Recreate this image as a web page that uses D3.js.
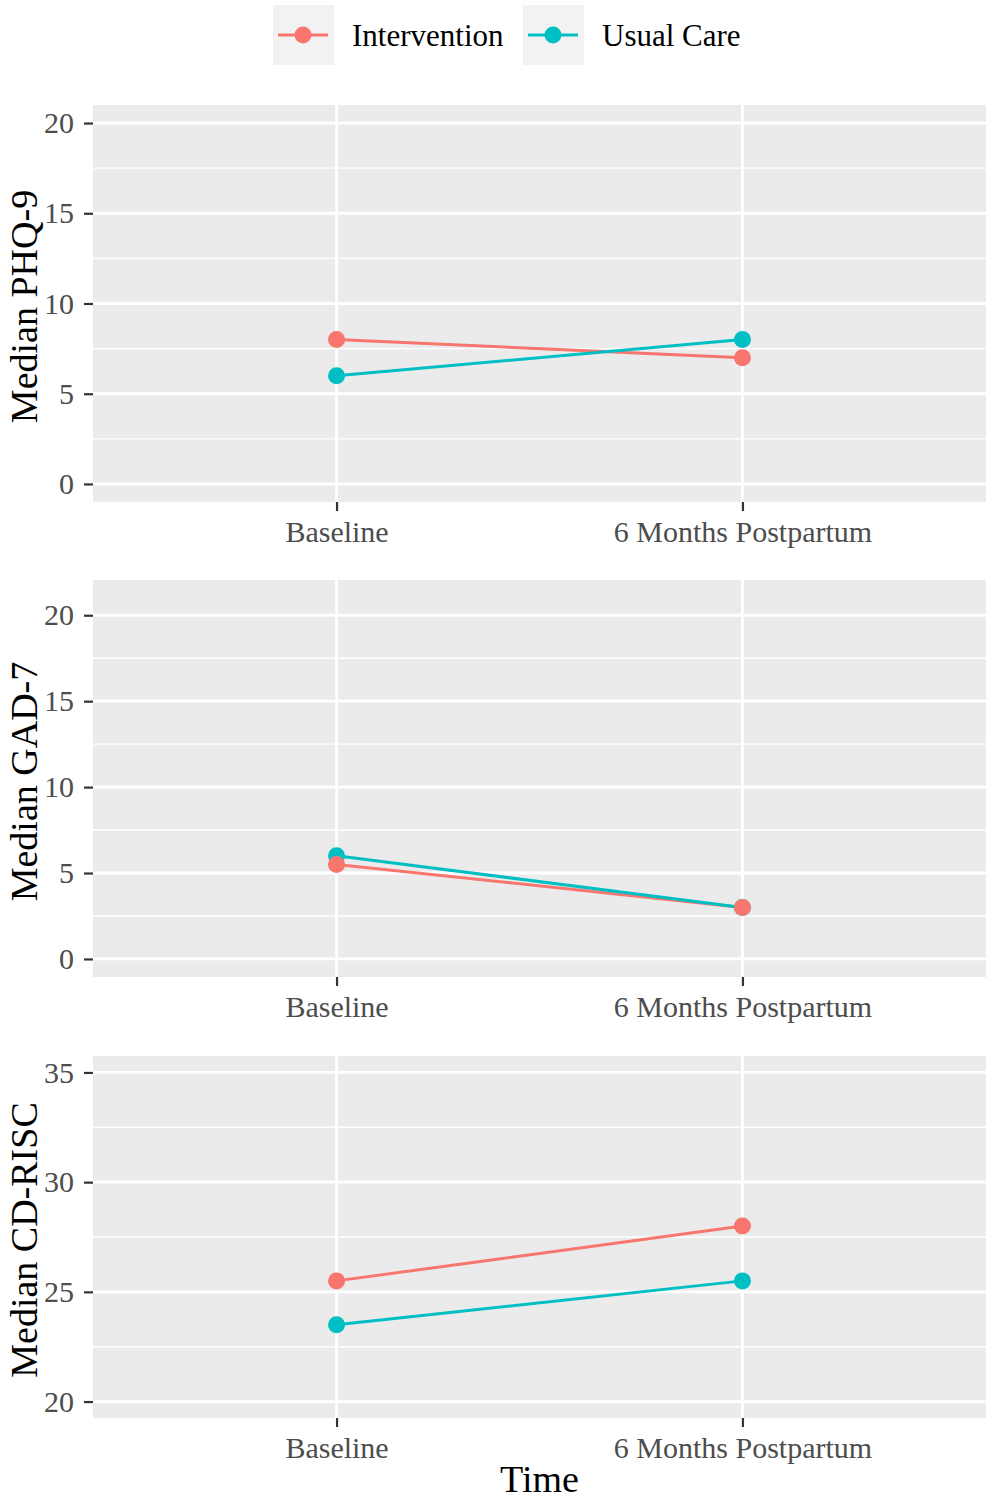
<!DOCTYPE html>
<html>
<head>
<meta charset="utf-8">
<script src="https://cdn.jsdelivr.net/npm/d3@7"></script>
<style>
  body { margin: 0; background: #fff; }
  text { font-family: "Liberation Serif", "Times New Roman", serif; }
</style>
</head>
<body>
<svg id="chart" width="992" height="1499"></svg>
<script>
// data
const timepoints = ["Baseline", "6 Months Postpartum"];
const groups = ["Intervention", "Usual Care"];
const groupColors = ["#F8766D", "#00BFC4"];

const phqIntervention = [8, 7];
const phqUsualCare = [6, 8];
const gadIntervention = [5.5, 3];
const gadUsualCare = [6, 3];
const riscIntervention = [25.5, 28];
const riscUsualCare = [23.5, 25.5];

const phqTicks = [0, 5, 10, 15, 20];
const gadTicks = [0, 5, 10, 15, 20];
const riscTicks = [20, 25, 30, 35];

const panels = [
  { label: "Median PHQ-9", limits: [0, 20], ticks: phqTicks, series: [phqIntervention, phqUsualCare], top: 105, bottom: 502 },
  { label: "Median GAD-7", limits: [0, 21], ticks: gadTicks, series: [gadIntervention, gadUsualCare], top: 580, bottom: 977 },
  { label: "Median CD-RISC", limits: [20, 35], ticks: riscTicks, series: [riscIntervention, riscUsualCare], top: 1056, bottom: 1418 }
];

const left = 93, right = 986;
const svg = d3.select("#chart");

const x = d3.scalePoint().domain(timepoints).range([left, right]).padding(0.6);

panels.forEach(p => {
  const span = p.limits[1] - p.limits[0];
  const y = d3.scaleLinear()
    .domain([p.limits[0] - 0.05 * span, p.limits[1] + 0.05 * span])
    .range([p.bottom, p.top]);
  const g = svg.append("g");

  // panel background
  g.append("rect")
    .attr("x", left).attr("y", p.top)
    .attr("width", right - left).attr("height", p.bottom - p.top)
    .attr("fill", "#EBEBEB");

  // minor grid
  const step = p.ticks[1] - p.ticks[0];
  const dom = y.domain();
  const minors = [p.ticks[0] - step / 2].concat(p.ticks.map(t => t + step / 2))
    .filter(v => v > dom[0] && v < dom[1]);
  g.selectAll(".minor").data(minors).join("line")
    .attr("x1", left).attr("x2", right)
    .attr("y1", d => y(d)).attr("y2", d => y(d))
    .attr("stroke", "#fff").attr("stroke-width", 1.4);

  // major grid
  g.selectAll(".major").data(p.ticks).join("line")
    .attr("x1", left).attr("x2", right)
    .attr("y1", d => y(d)).attr("y2", d => y(d))
    .attr("stroke", "#fff").attr("stroke-width", 2.8);
  g.selectAll(".vmajor").data(timepoints).join("line")
    .attr("x1", d => x(d)).attr("x2", d => x(d))
    .attr("y1", p.top).attr("y2", p.bottom)
    .attr("stroke", "#fff").attr("stroke-width", 2.8);

  // axes
  const yAxis = g.append("g")
    .attr("transform", `translate(${left},0)`)
    .call(d3.axisLeft(y).tickValues(p.ticks).tickSize(9).tickPadding(10));
  const xAxis = g.append("g")
    .attr("transform", `translate(0,${p.bottom})`)
    .call(d3.axisBottom(x).tickSize(9).tickPadding(10));
  [yAxis, xAxis].forEach(a => {
    a.select(".domain").remove();
    a.selectAll(".tick line").attr("stroke", "#333").attr("stroke-width", 2.2);
    a.selectAll(".tick text")
      .attr("fill", "#4D4D4D")
      .style("font-size", "30px")
      .style("font-family", '"Liberation Serif", "Times New Roman", serif');
  });

  // y title
  g.append("text")
    .attr("transform", `translate(37,${(p.top + p.bottom) / 2 + 3}) rotate(-90)`)
    .attr("text-anchor", "middle")
    .style("font-size", "38px")
    .attr("fill", "#000")
    .text(p.label);

  // lines then points
  const line = d3.line().x((d, i) => x(timepoints[i])).y(d => y(d));
  p.series.forEach((s, k) => {
    g.append("path")
      .attr("d", line(s))
      .attr("fill", "none")
      .attr("stroke", groupColors[k])
      .attr("stroke-width", 3);
  });
  [1, 0].forEach(k => {
    g.selectAll(".pt" + k).data(p.series[k]).join("circle")
      .attr("cx", (d, i) => x(timepoints[i]))
      .attr("cy", d => y(d))
      .attr("r", 8.5)
      .attr("fill", groupColors[k]);
  });
});

// x title
svg.append("text")
  .attr("x", (left + right) / 2).attr("y", 1492)
  .attr("text-anchor", "middle")
  .style("font-size", "38px")
  .text("Time");

// legend
const legendX = [273, 523];
groups.forEach((name, i) => {
  const lg = svg.append("g").attr("transform", `translate(${legendX[i]},5)`);
  lg.append("rect").attr("width", 61).attr("height", 60).attr("fill", "#F2F2F2");
  lg.append("line").attr("x1", 5).attr("x2", 55).attr("y1", 30).attr("y2", 30)
    .attr("stroke", groupColors[i]).attr("stroke-width", 3);
  lg.append("circle").attr("cx", 30).attr("cy", 30).attr("r", 8.5).attr("fill", groupColors[i]);
  lg.append("text").attr("x", 79).attr("y", 41)
    .style("font-size", "31px")
    .attr("fill", "#000")
    .text(name);
});
</script>
</body>
</html>
